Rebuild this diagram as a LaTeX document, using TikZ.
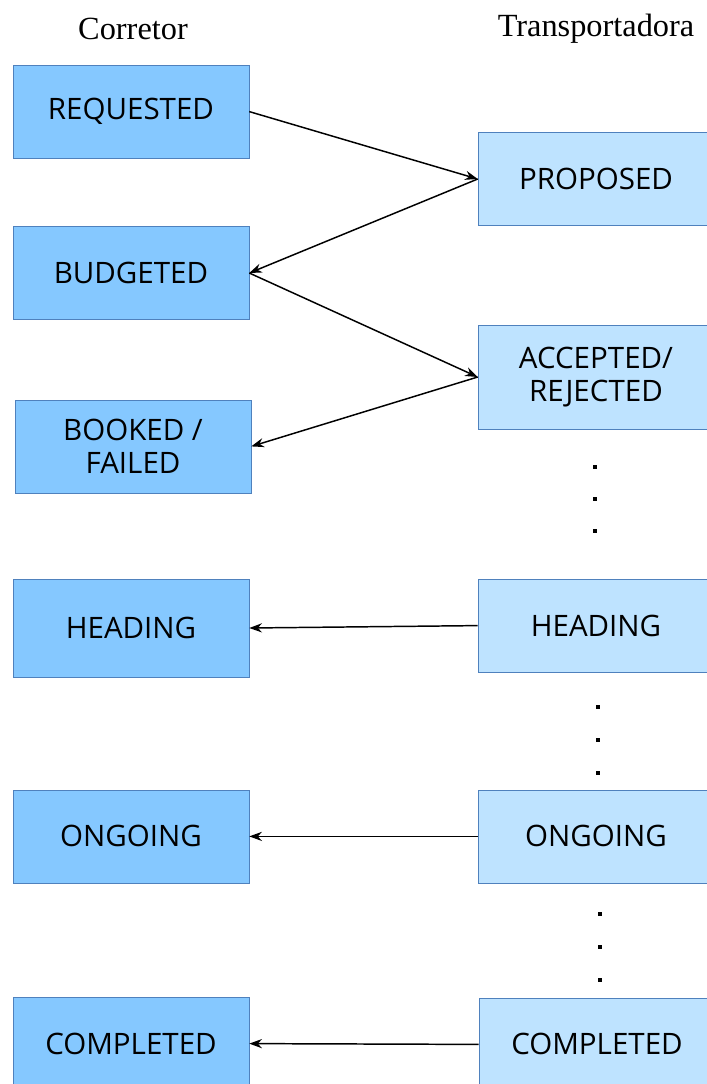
\documentclass[tikz,border=0pt]{standalone}
\usepackage{fontspec}
\setmainfont{Liberation Serif}
\newfontfamily\boxfont{Open Sans}
\usetikzlibrary{arrows.meta}

\definecolor{corrfill}{RGB}{133,200,255}
\definecolor{tranfill}{RGB}{190,227,255}
\definecolor{boxline}{RGB}{79,129,189}

\begin{document}
\begin{tikzpicture}[>={Stealth[length=9pt,width=6.5pt]},
  corr/.style={draw=boxline,fill=corrfill,minimum width=5.9cm,minimum height=2.33cm,align=center,font=\boxfont\fontsize{21}{23}\selectfont},
  tran/.style={corr,fill=tranfill},
  head/.style={font=\fontsize{23}{27}\selectfont},
  dotmark/.style={fill=black,minimum size=3.2pt,inner sep=0pt},
  link/.style={->,line width=1.05pt}]
\useasboundingbox (0,0) rectangle (17.675,-27.1);
\begin{scope}
\clip (0,0) rectangle (17.675,-27.1);
\node[head] (hc) at (3.325,-0.72) {Corretor};
\node[head] (ht) at (14.9,-0.72) {Transportadora};
% corretor side
\node[corr] (req) at (3.275,-2.79) {REQUESTED};
\node[corr] (bud) at (3.275,-6.825) {BUDGETED};
\node[corr] (boo) at (3.325,-11.16) {BOOKED /\\FAILED};
\node[corr,minimum height=2.45cm] (hdl) at (3.275,-15.7) {HEADING};
\node[corr] (ongl) at (3.275,-20.91) {ONGOING};
\node[corr] (coml) at (3.275,-26.09) {COMPLETED};
% transportadora side
\node[tran] (pro) at (14.9,-4.475) {PROPOSED};
\node[tran,minimum height=2.6cm] (acc) at (14.9,-9.425) {ACCEPTED/\\REJECTED};
\node[tran] (hdr) at (14.9,-15.64) {HEADING};
\node[tran] (ongr) at (14.9,-20.91) {ONGOING};
\node[tran] (comr) at (14.925,-26.11) {COMPLETED};
\end{scope}
% dots
\foreach \i/\y in {1/11.68,2/12.48,3/13.28} \node[dotmark] (da\i) at (14.875,-\y) {};
\foreach \i/\y in {1/17.68,2/18.5,3/19.33} \node[dotmark] (db\i) at (14.95,-\y) {};
\foreach \i/\y in {1/22.85,2/23.68,3/24.5} \node[dotmark] (dc\i) at (15.0,-\y) {};
% messages
\draw[link] (req.east) -- (pro.west);
\draw[link] (pro.west) -- (bud.east);
\draw[link] (bud.east) -- (acc.west);
\draw[link] (acc.west) -- (boo.east);
\draw[link] (hdr.west) -- (hdl.east);
\draw[link] (ongr.west) -- (ongl.east);
\draw[link] (comr.west) -- (coml.east);
\end{tikzpicture}
\end{document}
